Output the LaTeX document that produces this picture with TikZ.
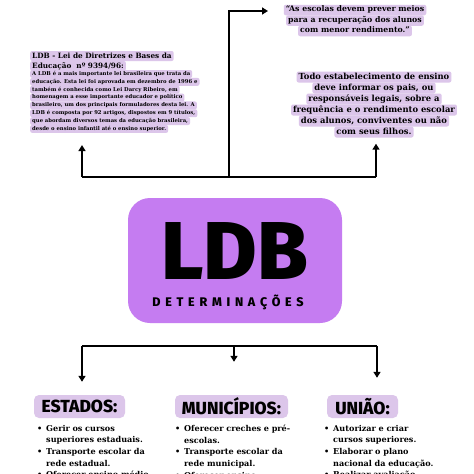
\documentclass[tikz,border=0pt]{standalone}
\usepackage{fontspec}
\setmainfont{DejaVu Serif}
\setsansfont{Fira Sans}
\IfFontExistsTF{Fira Sans ExtraBold}
  {\newfontfamily\heavyfont{Fira Sans ExtraBold}}
  {\newfontfamily\heavyfont{Fira Sans}[UprightFont=*Bold]}
\usetikzlibrary{arrows.meta}

\definecolor{lilac}{HTML}{DCC6EA}
\definecolor{ldbviolet}{HTML}{C57CF1}

% one bullet of a list: first line, second line (indented)
\newcommand\itm[2]{\noindent\makebox[9pt][l]{\textbullet}#1\par
  \ifx&#2&\else\noindent\hspace*{9pt}#2\par\fi}

\begin{document}
\begin{tikzpicture}[x=1pt,y=-1pt,
    link/.style={line width=1.8pt},
    arrow/.style={link,-{Triangle[length=6pt,width=7pt]}},
    hl/.style={fill=lilac,rounded corners=2pt,inner xsep=2pt,inner ysep=0pt},
    head/.style={fill=lilac,rounded corners=5pt,minimum height=23pt,inner sep=0pt,
                 font=\heavyfont\fontsize{17.5}{17.5}\selectfont},
    items/.style={anchor=north west,inner sep=0pt,text width=135pt,
                  font=\bfseries\fontsize{8.1}{11.6}\selectfont}]

\clip (0,0) rectangle (474,474);
\fill[white] (0,0) rectangle (474,474);

% centre
\node[fill=ldbviolet,rounded corners=22pt,minimum width=214pt,minimum height=125pt] (core) at (235,260.5) {};
\node[anchor=base,inner sep=0pt,font=\heavyfont\fontsize{82}{82}\selectfont] (ldb) at (234.5,279) {LDB};
\node[anchor=base,inner sep=0pt,font=\heavyfont\fontsize{12.5}{12.5}\selectfont\addfontfeature{LetterSpace=38}] (det) at (228,306) {DETERMINAÇÕES};

% lei (top left)
\foreach \txt [count=\i] in {{LDB - Lei de Diretrizes e Bases da},{Educação \ nº 9394/96:}}
  \node[hl,anchor=west,text height=7pt,text depth=3pt,font=\bfseries\fontsize{7.3}{10}\selectfont] (lei-\i) at (30,{56+10*(\i-1)}) {\txt};
\foreach \txt [count=\i] in {{A LDB é a mais importante lei brasileira que trata da},
    {educação. Esta lei foi aprovada em dezembro de 1996 e},
    {também é conhecida como Lei Darcy Ribeiro, em},
    {homenagem a esse importante educador e político},
    {brasileiro, um dos principais formuladores desta lei. A},
    {LDB é composta por 92 artigos, dispostos em 9 títulos,},
    {que abordam diversos temas da educação brasileira,},
    {desde o ensino infantil até o ensino superior.}}
  \node[hl,anchor=west,text height=5.3pt,text depth=2.55pt,font=\bfseries\fontsize{5.3}{7.85}\selectfont] (body-\i) at (30,{74+7.85*(\i-1)}) {\txt};

% quote (top right)
\foreach \txt [count=\i] in {{“As escolas devem prever meios},{para a recuperação dos alunos},{com menor rendimento.”}}
  \node[hl,text height=7.2pt,text depth=3.3pt,font=\bfseries\fontsize{7.8}{10.5}\selectfont] (quote-\i) at (355,{10+10.5*(\i-1)}) {\txt};

% informar (right)
\foreach \txt [count=\i] in {{Todo estabelecimento de ensino},{deve informar os pais, ou},
    {responsáveis legais, sobre a},{frequência e o rendimento escolar},
    {dos alunos, conviventes ou não},{com seus filhos.}}
  \node[hl,text height=7.6pt,text depth=3.4pt,font=\bfseries\fontsize{8.4}{11}\selectfont] (todo-\i) at (374,{77+11*(\i-1)}) {\txt};

% connectors above
\coordinate (hubL) at (82,177);
\coordinate (hubM) at (229,177);
\coordinate (hubR) at (376,177);
\coordinate (quoteIn) at (268,11);
\draw[link] (hubL) -- (hubR);
\draw[arrow] (hubL) -- ([yshift=-12pt]body-8.south -| hubL);
\draw[arrow] (hubR) -- ([yshift=-6pt]todo-6.south -| hubR);
\draw[arrow] (hubM) |- (quoteIn);

% levels
\node[head,minimum width=91pt] (estados) at (79.5,406.5) {ESTADOS:};
\node[head,minimum width=113pt] (municipios) at (231.5,406.5) {MUNICÍPIOS:};
\node[head,minimum width=71pt] (uniao) at (362.5,406.5) {UNIÃO:};

\node[items] (estados-list) at (37,425) {\itm{Gerir os cursos}{superiores estaduais.}\itm{Transporte escolar da}{rede estadual.}\itm{Oferecer ensino médio}{}};
\node[items] (municipios-list) at (175,425) {\itm{Oferecer creches e pré-}{escolas.}\itm{Transporte escolar da}{rede municipal.}\itm{Oferecer ensino}{}};
\node[items] (uniao-list) at (324,425) {\itm{Autorizar e criar}{cursos superiores.}\itm{Elaborar o plano}{nacional da educação.}\itm{Realizar avaliação}{}};

% connectors below
\coordinate (splitL) at (82,346);
\coordinate (splitM) at (234,346);
\coordinate (splitR) at (377,346);
\draw[link] (splitL) -- (splitR);
\draw[arrow] (splitL) -- ([yshift=13pt]estados.north -| splitL);
\draw[arrow] (splitM) -- ([yshift=33pt]municipios.north -| splitM);
\draw[arrow] (splitR) -- ([yshift=17pt]uniao.north -| splitR);
\end{tikzpicture}
\end{document}
